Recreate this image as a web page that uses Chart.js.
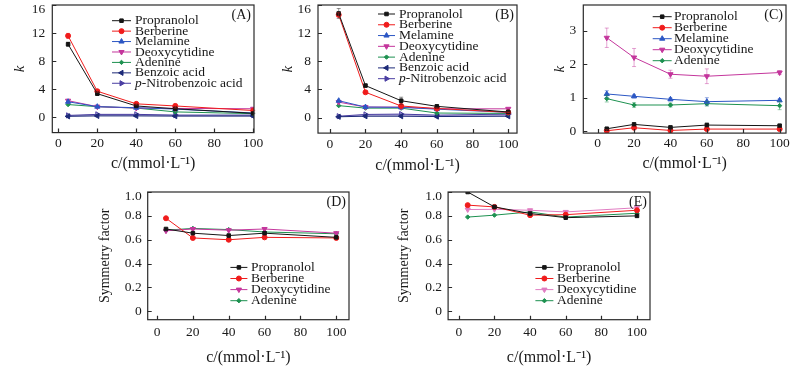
<!DOCTYPE html>
<html>
<head>
<meta charset="utf-8">
<script src="https://cdn.jsdelivr.net/npm/chart.js@4/dist/chart.umd.min.js"></script>
<style>
html, body { margin: 0; padding: 0; background: #fff; width: 800px; height: 368px; overflow: hidden; position: relative; }
canvas { position: absolute; }
</style>
</head>
<body>
<script>
// concentrations, mmol/L
var conc = [5, 20, 40, 60, 100];

// (A) k
var kA_propranolol = [10.4, 3.35, 1.6, 1.2, 0.55];
var kA_berberine = [11.6, 3.7, 1.9, 1.6, 0.95];
var kA_melamine = [2.2, 1.5, 1.35, 1.15, 0.6];
var kA_deoxycytidine = [2.35, 1.5, 1.3, 1.25, 1.2];
var kA_adenine = [1.8, 1.5, 1.3, 0.75, 0.5];
var kA_benzoic = [0.12, 0.18, 0.18, 0.15, 0.15];
var kA_nitrobenzoic = [0.25, 0.4, 0.4, 0.3, 0.3];
var errA_propranolol = [0.3, 0.15, 0.1, 0.1, 0.05];
var errA_berberine = [0.35, 0.15, 0.15, 0.3, 0.05];

// (B) k
var kB_propranolol = [14.8, 4.55, 2.4, 1.6, 0.8];
var kB_berberine = [14.6, 3.6, 1.65, 1.3, 0.75];
var kB_melamine = [2.4, 1.5, 1.45, 1.2, 0.75];
var kB_deoxycytidine = [2.2, 1.5, 1.5, 1.25, 1.25];
var kB_adenine = [1.7, 1.35, 1.35, 0.65, 0.6];
var kB_benzoic = [0.12, 0.2, 0.2, 0.15, 0.2];
var kB_nitrobenzoic = [0.2, 0.45, 0.5, 0.35, 0.5];
var errB_propranolol = [0.7, 0.2, 0.5, 0.2, 0.1];
var errB_berberine = [0.3, 0.2, 0.1, 0.1, 0.05];

// (C) k
var kC_propranolol = [0.07, 0.2, 0.11, 0.18, 0.16];
var kC_berberine = [0.01, 0.1, 0.02, 0.06, 0.06];
var kC_melamine = [1.11, 1.04, 0.95, 0.88, 0.92];
var kC_deoxycytidine = [2.79, 2.2, 1.7, 1.64, 1.75];
var kC_adenine = [0.97, 0.78, 0.78, 0.82, 0.76];
var errC_propranolol = [0.04, 0.05, 0.04, 0.06, 0.05];
var errC_berberine = [0.03, 0.04, 0.03, 0.04, 0.03];
var errC_melamine = [0.1, 0.05, 0.04, 0.12, 0.04];
var errC_deoxycytidine = [0.29, 0.27, 0.12, 0.22, 0.06];
var errC_adenine = [0.1, 0.07, 0.06, 0.07, 0.12];

// (D) symmetry factor
var sD_propranolol = [0.69, 0.655, 0.635, 0.655, 0.62];
var sD_berberine = [0.78, 0.615, 0.6, 0.62, 0.615];
var sD_deoxycytidine = [0.675, 0.69, 0.68, 0.69, 0.655];
var sD_adenine = [0.68, 0.695, 0.685, 0.665, 0.65];

// (E) symmetry factor
var sE_propranolol = [1.0, 0.875, 0.82, 0.785, 0.8];
var sE_berberine = [0.89, 0.875, 0.806, 0.81, 0.847];
var sE_deoxycytidine = [0.853, 0.855, 0.847, 0.833, 0.868];
var sE_adenine = [0.79, 0.806, 0.833, 0.79, 0.822];

var serif = '"Liberation Serif", "Times New Roman", serif';

var look = {
    'Propranolol': { color: '#151515', style: 'rect', rot: 0, r: 2.5 },
    'Berberine': { color: '#f01c1c', style: 'circle', rot: 0, r: 2.5 },
    'Melamine': { color: '#2c57c4', style: 'triangle', rot: 0, r: 3 },
    'Deoxycytidine': { color: '#c4369c', style: 'triangle', rot: 180, r: 3 },
    'Adenine': { color: '#1d9150', style: 'rectRot', rot: 0, r: 2.2 },
    'Benzoic acid': { color: '#1d2a78', style: 'triangle', rot: -90, r: 3 },
    'p-Nitrobenzoic acid': { color: '#4a3ea2', style: 'triangle', rot: 90, r: 3 }
};

function series(name, values, errors, color) {
    var lk = look[name];
    var c = color || lk.color;
    return {
        label: name,
        data: conc.map(function (x, i) { return { x: x, y: values[i] }; }),
        errorBars: errors || null,
        borderColor: c,
        backgroundColor: c,
        borderWidth: 1,
        tension: 0,
        pointStyle: lk.style,
        pointRotation: lk.rot,
        pointRadius: lk.r,
        pointBorderWidth: 1,
        fill: false
    };
}

// error bars, frame, inward ticks, panel tag
var framePlugin = {
    id: 'frame',
    beforeDraw: function (chart) {
        // the top y label sits a little below its tick, as in the figure
        var ys = chart.scales.y;
        var items = ys.getLabelItems();
        items.forEach(function (it, i) {
            if (ys.ticks[i] && Math.abs(ys.ticks[i].value - ys.max) < 1e-9 && !it.shifted) {
                it.options.translation[1] += 4;
                it.shifted = true;
            }
        });
    },
    afterDatasetsDraw: function (chart) {
        var ctx = chart.ctx, xs = chart.scales.x, ys = chart.scales.y;
        ctx.save();
        chart.data.datasets.forEach(function (ds) {
            if (!ds.errorBars) return;
            ctx.strokeStyle = ds.borderColor;
            ctx.globalAlpha = 0.45;
            ctx.lineWidth = 1;
            ds.data.forEach(function (p, i) {
                var e = ds.errorBars[i];
                var px = xs.getPixelForValue(p.x);
                var y1 = ys.getPixelForValue(p.y + e), y2 = ys.getPixelForValue(p.y - e);
                ctx.beginPath();
                ctx.moveTo(px, y1); ctx.lineTo(px, y2);
                ctx.moveTo(px - 2, y1); ctx.lineTo(px + 2, y1);
                ctx.moveTo(px - 2, y2); ctx.lineTo(px + 2, y2);
                ctx.stroke();
            });
        });
        ctx.restore();
    },
    afterDraw: function (chart, args, o) {
        var a = chart.chartArea, ctx = chart.ctx;
        var xs = chart.scales.x, ys = chart.scales.y;
        ctx.save();
        ctx.strokeStyle = '#2a2a2a';
        ctx.lineWidth = 1.2;
        ctx.strokeRect(a.left, a.top, a.right - a.left, a.bottom - a.top);
        ctx.beginPath();
        xs.ticks.forEach(function (t) {
            var px = Math.round(xs.getPixelForValue(t.value)) + 0.5;
            ctx.moveTo(px, a.bottom); ctx.lineTo(px, a.bottom - 4);
        });
        ys.ticks.forEach(function (t) {
            var py = Math.round(ys.getPixelForValue(t.value)) + 0.5;
            ctx.moveTo(a.left, py); ctx.lineTo(a.left + 4, py);
        });
        ctx.stroke();
        ctx.fillStyle = '#161616';
        ctx.font = '14px ' + serif;
        ctx.textAlign = 'right';
        ctx.textBaseline = 'middle';
        ctx.fillText(o.tag, a.right - 3, a.top + 10);
        ctx.restore();
    }
};

var legendPlugin = {
    id: 'panelLegend',
    afterDraw: function (chart, args, o) {
        var ctx = chart.ctx;
        ctx.save();
        ctx.textBaseline = 'middle';
        ctx.textAlign = 'left';
        chart.data.datasets.forEach(function (ds, i) {
            var y = o.y + i * o.dy;
            ctx.strokeStyle = ds.borderColor;
            ctx.fillStyle = ds.borderColor;
            ctx.lineWidth = 1;
            ctx.beginPath();
            ctx.moveTo(o.x, y); ctx.lineTo(o.x + o.len, y);
            ctx.stroke();
            Chart.helpers.drawPoint(ctx, {
                pointStyle: ds.pointStyle, radius: ds.pointRadius,
                rotation: ds.pointRotation, borderWidth: 1
            }, o.x + o.len / 2, y);
            ctx.fillStyle = '#161616';
            var tx = o.tx;
            var label = ds.label;
            if (label.indexOf('p-') === 0) {
                ctx.font = 'italic 13.5px ' + serif;
                ctx.fillText('p', tx, y);
                tx += ctx.measureText('p').width;
                label = label.slice(1);
            }
            ctx.font = '13.5px ' + serif;
            ctx.fillText(label, tx, y);
        });
        ctx.restore();
    }
};

var panels = [
    {
        tag: '(A)', frame: { l: 52.3, t: 5, r: 254, b: 132.5 },
        xMin: -3.1, xMax: 100.4, yMin: -2.2, yMax: 16, yStep: 4,
        yTitle: 'k', yItalic: true, yTitleX: 20, xTitleY: 163.3, yPad: 7, xPad: 3,
        legend: { x: 112, y: 20.7, dy: 10.43, len: 19, tx: 135 },
        sets: [
            series('Propranolol', kA_propranolol, errA_propranolol),
            series('Berberine', kA_berberine, errA_berberine),
            series('Melamine', kA_melamine),
            series('Deoxycytidine', kA_deoxycytidine),
            series('Adenine', kA_adenine),
            series('Benzoic acid', kA_benzoic),
            series('p-Nitrobenzoic acid', kA_nitrobenzoic)
        ]
    },
    {
        tag: '(B)', frame: { l: 318.3, t: 5, r: 517, b: 132.7 },
        xMin: -6.6, xMax: 104.9, yMin: -2.2, yMax: 16, yStep: 4,
        yTitle: 'k', yItalic: true, yTitleX: 288.3, xTitleY: 165, yPad: 7, xPad: 3,
        legend: { x: 378.3, y: 14, dy: 10.78, len: 17, tx: 399.3 },
        sets: [
            series('Propranolol', kB_propranolol, errB_propranolol),
            series('Berberine', kB_berberine, errB_berberine),
            series('Melamine', kB_melamine),
            series('Deoxycytidine', kB_deoxycytidine),
            series('Adenine', kB_adenine),
            series('Benzoic acid', kB_benzoic),
            series('p-Nitrobenzoic acid', kB_nitrobenzoic)
        ]
    },
    {
        tag: '(C)', frame: { l: 583.3, t: 5, r: 785.7, b: 133 },
        xMin: -7.9, xMax: 103.5, yMin: -0.06, yMax: 3.77, yStep: 1,
        yTitle: 'k', yItalic: true, yTitleX: 560, xTitleY: 163.3, yPad: 7, xPad: 2,
        legend: { x: 652.7, y: 16.7, dy: 11, len: 19, tx: 674 },
        sets: [
            series('Propranolol', kC_propranolol, errC_propranolol),
            series('Berberine', kC_berberine, errC_berberine),
            series('Melamine', kC_melamine, errC_melamine),
            series('Deoxycytidine', kC_deoxycytidine, errC_deoxycytidine),
            series('Adenine', kC_adenine, errC_adenine)
        ]
    },
    {
        tag: '(D)', frame: { l: 147.3, t: 192.3, r: 348.7, b: 320 },
        xMin: -5.2, xMax: 107.1, yMin: -0.07, yMax: 1.0, yStep: 0.2,
        yTitle: 'Symmetry factor', yItalic: false, yTitleX: 105, xTitleY: 357.7, yPad: 6, xPad: 5,
        legend: { x: 230, y: 267.7, dy: 11.1, len: 17, tx: 250.7 },
        sets: [
            series('Propranolol', sD_propranolol),
            series('Berberine', sD_berberine),
            series('Deoxycytidine', sD_deoxycytidine),
            series('Adenine', sD_adenine)
        ]
    },
    {
        tag: '(E)', frame: { l: 447.7, t: 192.3, r: 649.3, b: 320 },
        xMin: -6, xMax: 107.3, yMin: -0.07, yMax: 1.0, yStep: 0.2,
        yTitle: 'Symmetry factor', yItalic: false, yTitleX: 404, xTitleY: 357.7, yPad: 6, xPad: 5,
        legend: { x: 535, y: 267.7, dy: 11.1, len: 18, tx: 556.7 },
        sets: [
            series('Propranolol', sE_propranolol),
            series('Berberine', sE_berberine),
            series('Deoxycytidine', sE_deoxycytidine, null, '#e07cc2'),
            series('Adenine', sE_adenine)
        ]
    }
];

// lavender band between the two benzoic acids in A and B
[panels[0], panels[1]].forEach(function (p) {
    var ds = p.sets[6];
    ds.fill = '-1';
    ds.backgroundColor = 'rgba(95, 85, 175, 0.45)';
});

var padL = 4, padT = 20, padR = 24, padB = 4;

panels.forEach(function (p) {
    var f = p.frame;
    var yFont = { family: serif, size: p.yItalic ? 15 : 14, style: p.yItalic ? 'italic' : 'normal' };
    var xFont = { family: serif, size: 16 };
    var yW = f.l - p.yTitleX + yFont.size * 1.2 / 2;
    var xH = p.xTitleY - f.b + xFont.size * 1.2 / 2;
    var left = f.l - yW - padL;
    var top = f.t - padT;
    var w = Math.round(padL + yW + (f.r - f.l) + padR);
    var h = Math.round(padT + (f.b - f.t) + xH + padB);

    var canvas = document.createElement('canvas');
    canvas.width = w;
    canvas.height = h;
    canvas.style.left = left + 'px';
    canvas.style.top = top + 'px';
    canvas.style.width = w + 'px';
    canvas.style.height = h + 'px';
    document.body.appendChild(canvas);

    var yDec = p.yStep < 1;

    new Chart(canvas, {
        type: 'line',
        data: { datasets: p.sets },
        options: {
            responsive: false,
            animation: false,
            devicePixelRatio: 1,
            layout: { padding: { left: padL, top: padT, right: padR, bottom: padB } },
            plugins: {
                legend: { display: false },
                tooltip: { enabled: false },
                frame: { tag: p.tag },
                panelLegend: {
                    x: p.legend.x - left, y: p.legend.y - top, dy: p.legend.dy,
                    len: p.legend.len, tx: p.legend.tx - left
                }
            },
            scales: {
                x: {
                    type: 'linear',
                    min: p.xMin,
                    max: p.xMax,
                    grid: { display: false, drawTicks: false },
                    border: { display: false },
                    ticks: {
                        stepSize: 20, includeBounds: false, padding: p.xPad,
                        color: '#1a1a1a', font: { family: serif, size: 13.5 },
                        maxRotation: 0
                    },
                    title: {
                        display: true, text: 'c/(mmol·L⁻¹)', padding: 0,
                        color: '#1a1a1a', font: xFont
                    },
                    afterFit: function (s) { s.height = xH; }
                },
                y: {
                    min: p.yMin,
                    max: p.yMax,
                    grid: { display: false, drawTicks: false },
                    border: { display: false },
                    ticks: {
                        stepSize: p.yStep, includeBounds: false, padding: p.yPad,
                        color: '#1a1a1a', font: { family: serif, size: 13.5 },
                        callback: function (v) {
                            if (Math.abs(v) < 1e-9) return '0';
                            return yDec ? v.toFixed(1) : String(Math.round(v));
                        }
                    },
                    title: {
                        display: true, text: p.yTitle, padding: 0,
                        color: '#1a1a1a', font: yFont
                    },
                    afterFit: function (s) { s.width = yW; }
                }
            }
        },
        plugins: [framePlugin, legendPlugin]
    });
});
</script>
</body>
</html>
